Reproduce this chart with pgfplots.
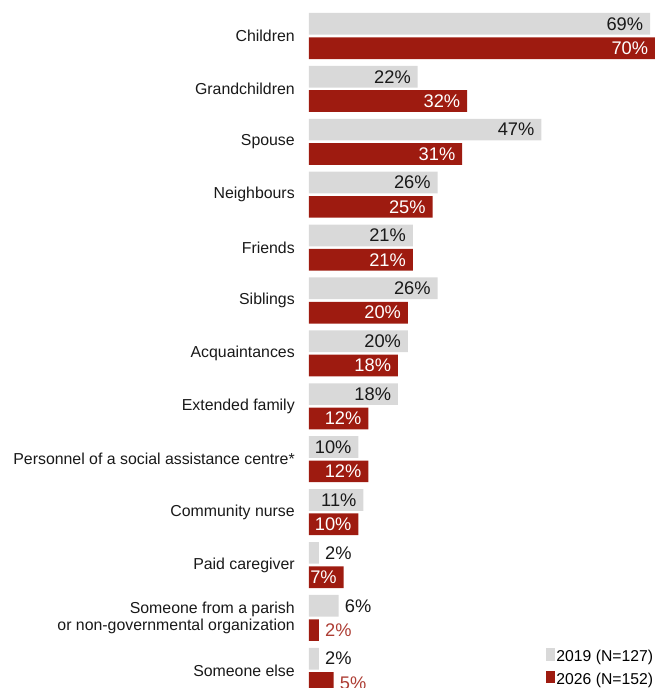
\documentclass[border=0pt]{standalone}
\usepackage{fontspec}
\setmainfont{Liberation Sans}
\usepackage{pgfplots}
\pgfplotsset{compat=1.18}
\usepackage{pgfplotstable}
\definecolor{grayc}{RGB}{217,217,217}
\definecolor{redc}{RGB}{158,27,16}
\newcommand\vf{\fontsize{13.7}{16}\selectfont}
\pgfplotstableread{
idx v19 v26
0 69 70
1 22 32
2 47 31
3 26 25
4 21 21
5 26 20
6 20 18
7 18 12
8 10 12
9 11 10
10 2 7
11 6 2
12 2 5
}\data
\begin{document}
\begin{tikzpicture}
\begin{axis}[
  scale only axis, width=259.5pt, height=515.8pt,
  xmin=0, xmax=70, ymin=-0.5, ymax=12.5, y dir=reverse,
  axis line style={draw=none}, tick style={draw=none},
  xtick=\empty, ytick={0,...,12},
  yticklabels={Children, Grandchildren, Spouse, Neighbours, Friends, Siblings, Acquaintances, Extended family, Personnel of a social assistance centre*, Community nurse, Paid caregiver, {Someone from a parish\\or non-governmental organization}, Someone else},
  yticklabel style={font=\fontsize{11.9}{12.75}\selectfont, align=right, inner sep=0pt, xshift=-10.5pt, text=black!90},
  /pgf/number format/assume math mode=true,
  clip=false,
  legend style={at={(axis cs:70,11.57)}, anchor=north east, draw=none, fill=none, inner sep=0pt, font=\fontsize{11.8}{13}\selectfont, row sep=4pt, nodes={inner sep=1.2pt}},
  legend cell align=left,
  legend image code/.code={\path (0pt,-2.6pt) rectangle (6.6pt,6.6pt); \fill[#1] (0pt,0pt) rectangle (6.6pt,6.6pt);},
]
\addplot[xbar, fill=grayc, draw=none, bar width=0.41, bar shift=0pt] table[x=v19, y expr=\thisrow{idx}-0.23]{\data};
\addlegendentry{2019 (N=127)}
\addplot[xbar, fill=redc, draw=none, bar width=0.41, bar shift=0pt] table[x=v26, y expr=\thisrow{idx}+0.23]{\data};
\addlegendentry{2026 (N=152)}
% labels 2019
\addplot[draw=none, forget plot, point meta=x, x filter/.expression={x<10 ? nan : x},
  nodes near coords={\pgfmathprintnumber{\pgfplotspointmeta}\%},
  nodes near coords style={anchor=east, xshift=-5pt, font=\vf, text=black!90, inner sep=0pt}]
  table[x=v19, y expr=\thisrow{idx}-0.23]{\data};
\addplot[draw=none, forget plot, point meta=x, x filter/.expression={x<10 ? x : nan},
  nodes near coords={\pgfmathprintnumber{\pgfplotspointmeta}\%},
  nodes near coords style={anchor=west, xshift=4.5pt, font=\vf, text=black!90, inner sep=0pt}]
  table[x=v19, y expr=\thisrow{idx}-0.23]{\data};
% labels 2026
\addplot[draw=none, forget plot, point meta=x, x filter/.expression={x<7 ? nan : x},
  nodes near coords={\pgfmathprintnumber{\pgfplotspointmeta}\%},
  nodes near coords style={anchor=east, xshift=-5pt, font=\vf, text=white, inner sep=0pt}]
  table[x=v26, y expr=\thisrow{idx}+0.23]{\data};
\addplot[draw=none, forget plot, point meta=x, x filter/.expression={x<7 ? x : nan},
  nodes near coords={\pgfmathprintnumber{\pgfplotspointmeta}\%},
  nodes near coords style={anchor=west, xshift=4.5pt, font=\vf, text=redc!85!white, inner sep=0pt}]
  table[x=v26, y expr=\thisrow{idx}+0.23]{\data};
\end{axis}
\pgfresetboundingbox
\path ([xshift=-231.75pt,yshift=7.16pt]current axis.north west) rectangle ([yshift=-508.84pt]current axis.north east);
\end{tikzpicture}
\end{document}
